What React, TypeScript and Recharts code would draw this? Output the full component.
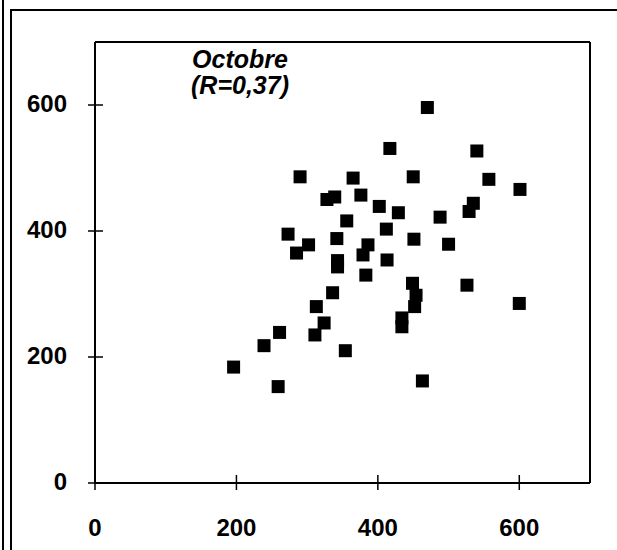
import React from 'react';
import { ScatterChart, Scatter, XAxis, YAxis, ReferenceLine } from 'recharts';

const xValues = [
  470, 417, 290, 365, 450, 328, 339, 376, 402, 429, 488, 356, 412, 273, 451, 342,
  302, 285, 386, 379, 343, 343, 413, 383, 540, 557, 601, 535, 529, 500, 449, 454,
  452, 434, 434, 526, 600, 336, 313, 324, 311, 261, 239, 354, 196, 259, 463,
];
const yValues = [
  596, 531, 486, 484, 486, 450, 454, 457, 439, 429, 422, 416, 403, 395, 387, 388,
  378, 365, 378, 362, 353, 343, 354, 330, 527, 482, 466, 444, 431, 379, 317, 298,
  280, 262, 248, 314, 285, 302, 280, 254, 235, 239, 218, 210, 184, 153, 162,
];
const xTicks = [0, 200, 400, 600];
const yTicks = [0, 200, 400, 600];
const titleLine1 = 'Octobre';
const titleLine2 = '(R=0,37)';

const data = xValues.map((x, i) => ({ x, y: yValues[i] }));

const FONT = '"Liberation Sans", Arial, sans-serif';

const Square = (props: any) => {
  const { cx, cy } = props;
  if (cx == null || cy == null) return null;
  return <rect x={cx - 6.5} y={cy - 6.5} width={13} height={13} fill="#000" />;
};

const XTick = (props: any) => {
  const { x, y, payload } = props;
  return (
    <g>
      <line x1={x} x2={x} y1={y - 8} y2={y + 7} stroke="#000" strokeWidth={1.5} />
      <text x={x} y={y + 53} textAnchor="middle" fontFamily={FONT} fontWeight="bold" fontSize={24} fill="#000">
        {payload.value}
      </text>
    </g>
  );
};

const YTick = (props: any) => {
  const { x, y, payload } = props;
  return (
    <g>
      <line x1={x - 7} x2={x + 8} y1={y} y2={y} stroke="#000" strokeWidth={1.5} />
      <text x={x - 28} y={y + 7} textAnchor="end" fontFamily={FONT} fontWeight="bold" fontSize={24} fill="#000">
        {payload.value}
      </text>
    </g>
  );
};

export default function App() {
  return (
    <div style={{ position: 'absolute', left: 0, top: 0, width: 617, height: 550, background: '#fff', overflow: 'hidden' }}>
      <div style={{ position: 'absolute', left: 2, top: 0, width: 2, height: 550, background: '#000' }} />
      <div style={{ position: 'absolute', left: 10, top: 9, width: 2, height: 541, background: '#000' }} />
      <div style={{ position: 'absolute', left: 10, top: 9, width: 607, height: 2, background: '#000' }} />
      <ScatterChart width={617} height={550} margin={{ top: 42, right: 27, left: 0, bottom: 0 }}>
        <XAxis
          type="number"
          dataKey="x"
          domain={[0, 700]}
          ticks={xTicks}
          height={67}
          tickSize={0}
          tickMargin={0}
          tickLine={false}
          axisLine={{ stroke: '#000', strokeWidth: 2 }}
          tick={<XTick />}
        />
        <YAxis
          type="number"
          dataKey="y"
          domain={[0, 700]}
          ticks={yTicks}
          width={95}
          tickSize={0}
          tickMargin={0}
          tickLine={false}
          axisLine={{ stroke: '#000', strokeWidth: 2 }}
          tick={<YTick />}
        />
        <ReferenceLine y={700} stroke="#000" strokeWidth={2} />
        <ReferenceLine x={700} stroke="#000" strokeWidth={2} />
        <Scatter data={data} shape={<Square />} isAnimationActive={false} />
      </ScatterChart>
      <div
        style={{
          position: 'absolute',
          left: 150,
          top: 46,
          width: 180,
          textAlign: 'center',
          fontFamily: FONT,
          fontWeight: 'bold',
          fontStyle: 'italic',
          fontSize: 25,
          lineHeight: '26px',
          color: '#000',
        }}
      >
        <div>{titleLine1}</div>
        <div>{titleLine2}</div>
      </div>
    </div>
  );
}
